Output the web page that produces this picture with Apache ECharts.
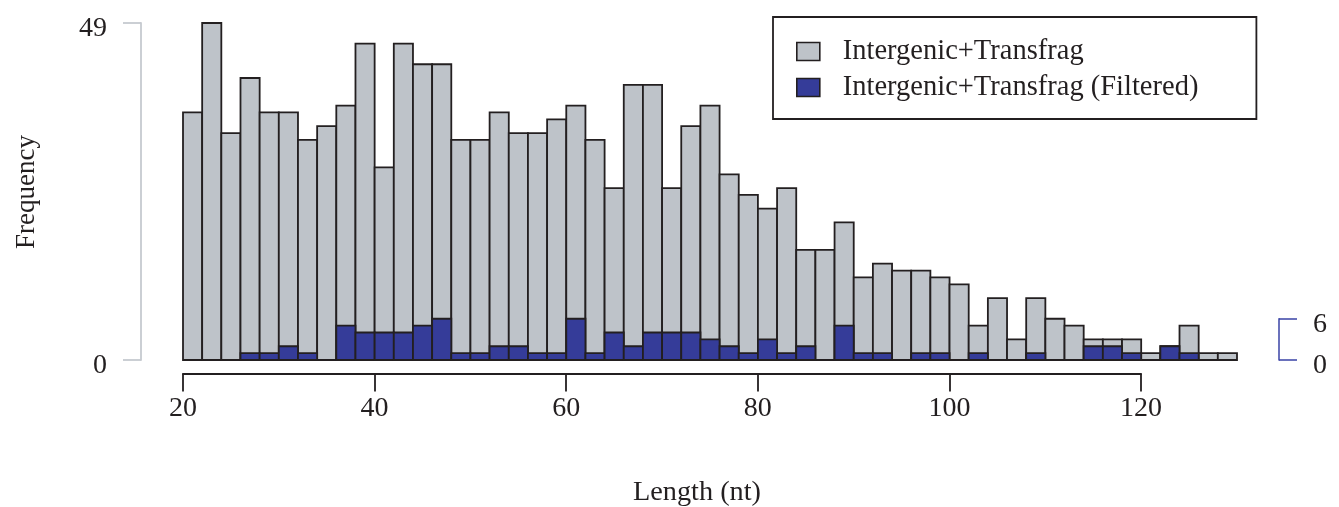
<!DOCTYPE html>
<html>
<head>
<meta charset="utf-8">
<script src="https://cdn.jsdelivr.net/npm/echarts@6/dist/echarts.min.js"></script>
<style>
html,body{margin:0;padding:0;background:#fff;}
#chart{width:1339px;height:507px;}
</style>
</head>
<body>
<div id="chart"></div>
<script>
// Histogram bins (start of each 2-nt bin)
var binStarts = [20,22,24,26,28,30,32,34,36,38,40,42,44,46,48,50,52,54,56,58,60,62,64,66,68,70,72,74,76,78,80,82,84,86,88,90,92,94,96,98,100,102,104,106,108,110,112,114,116,118,120,122,124,126,128];
var binWidth = 2;
var allCounts = [36,49,33,41,36,36,32,34,37,46,28,46,43,43,32,32,36,33,33,35,37,32,25,40,40,25,34,37,27,24,22,25,16,16,20,12,14,13,13,12,11,5,9,3,9,6,5,3,3,3,1,2,5,1,1];
var filteredCounts = [0,0,0,1,1,2,1,0,5,4,4,4,5,6,1,1,2,2,1,1,6,1,4,2,4,4,4,3,2,1,3,1,2,0,5,1,1,0,1,1,0,1,0,0,1,0,0,2,2,1,0,2,1,0,0];
var xTicks = [20,40,60,80,100,120];
var seriesNames = ['Intergenic+Transfrag','Intergenic+Transfrag (Filtered)'];
var grayColor = '#bec3c9';
var blueColor = '#353c99';
var inkColor = '#231f20';
var FONT = 'Liberation Serif';

function toData(counts){
  return binStarts.map(function(s,i){ return [s, s+binWidth, counts[i]]; });
}
function renderBin(fill){
  return function(params, api){
    var v = api.value(2);
    if (!v) return null;
    var p0 = api.coord([api.value(0), v]);
    var p1 = api.coord([api.value(1), 0]);
    return {
      type: 'rect',
      shape: {x: p0[0], y: p0[1], width: p1[0]-p0[0], height: p1[1]-p0[1]},
      style: {fill: fill, stroke: inkColor, lineWidth: 1.8}
    };
  };
}
var yLabel = {
  margin: 34, color: inkColor, fontFamily: FONT, fontSize: 28,
  formatter: function(v){ return '{a|' + v + '}'; },
  rich: {a: {fontSize: 28, fontFamily: FONT, color: inkColor, padding: [12,0,0,0]}}
};

var chart = echarts.init(document.getElementById('chart'), null, {renderer:'canvas'});
chart.setOption({
  animation: false,
  backgroundColor: '#fff',
  textStyle: {fontFamily: FONT},
  grid: [
    {left: 183, width: 1054, top: 23, height: 337},
    {left: 183, width: 958, top: 23, height: 337},
    {left: 1240, right: 60, top: 318.7, height: 41.3}
  ],
  xAxis: [
    {gridIndex: 0, type: 'value', min: 20, max: 130, show: false},
    {gridIndex: 1, type: 'value', min: 20, max: 120, interval: 20, position: 'bottom', offset: 13.5,
     axisLine: {show: true, onZero: false, lineStyle: {color: inkColor, width: 1.8}},
     axisTick: {show: true, length: 18, lineStyle: {color: inkColor, width: 1.8}},
     axisLabel: {margin: 21, fontSize: 28, color: inkColor, fontFamily: FONT,
       formatter: function(v){ return xTicks.indexOf(v) >= 0 ? String(v) : ''; }},
     splitLine: {show: false}},
    {gridIndex: 2, type: 'value', min: 0, max: 1, show: false}
  ],
  yAxis: [
    {gridIndex: 0, type: 'value', min: 0, max: 49, interval: 49, offset: 42,
     axisLine: {show: true, onZero: false, lineStyle: {color: '#c6cad0', width: 1.8}},
     axisTick: {show: true, length: 18, lineStyle: {color: '#c6cad0', width: 1.8}},
     axisLabel: yLabel,
     splitLine: {show: false}},
    {gridIndex: 1, type: 'value', show: false},
    {gridIndex: 2, type: 'value', min: 0, max: 6, interval: 6, position: 'right',
     axisLine: {show: true, onZero: false, lineStyle: {color: '#3a43a6', width: 1.5}},
     axisTick: {show: true, length: 18, lineStyle: {color: '#3a43a6', width: 1.5}},
     axisLabel: yLabel,
     splitLine: {show: false}}
  ],
  legend: {
    left: 773, top: 17, orient: 'vertical', selectedMode: false,
    borderColor: inkColor, borderWidth: 1.8, borderRadius: 0,
    padding: [20, 58, 17, 23],
    itemWidth: 23, itemHeight: 18, itemGap: 7,
    textStyle: {fontSize: 28.5, color: inkColor, fontFamily: FONT, padding: [0,0,0,18]},
    data: [
      {name: seriesNames[0], icon: 'rect', itemStyle: {color: grayColor, borderColor: inkColor, borderWidth: 1.6}},
      {name: seriesNames[1], icon: 'rect', itemStyle: {color: blueColor, borderColor: inkColor, borderWidth: 1.6}}
    ]
  },
  graphic: [
    {type: 'text', rotation: Math.PI/2, position: [27, 192],
     style: {text: 'Frequency', fontSize: 27, fontFamily: FONT, fill: inkColor, textAlign: 'center', textVerticalAlign: 'middle'}},
    {type: 'text', position: [697, 493],
     style: {text: 'Length (nt)', fontSize: 28.3, fontFamily: FONT, fill: inkColor, textAlign: 'center', textVerticalAlign: 'middle'}}
  ],
  series: [
    {name: seriesNames[0], type: 'custom', xAxisIndex: 0, yAxisIndex: 0,
     itemStyle: {color: grayColor},
     renderItem: renderBin(grayColor), encode: {x: [0,1], y: 2}, data: toData(allCounts)},
    {name: seriesNames[1], type: 'custom', xAxisIndex: 0, yAxisIndex: 0,
     itemStyle: {color: blueColor},
     renderItem: renderBin(blueColor), encode: {x: [0,1], y: 2}, data: toData(filteredCounts)}
  ]
});
</script>
</body>
</html>
